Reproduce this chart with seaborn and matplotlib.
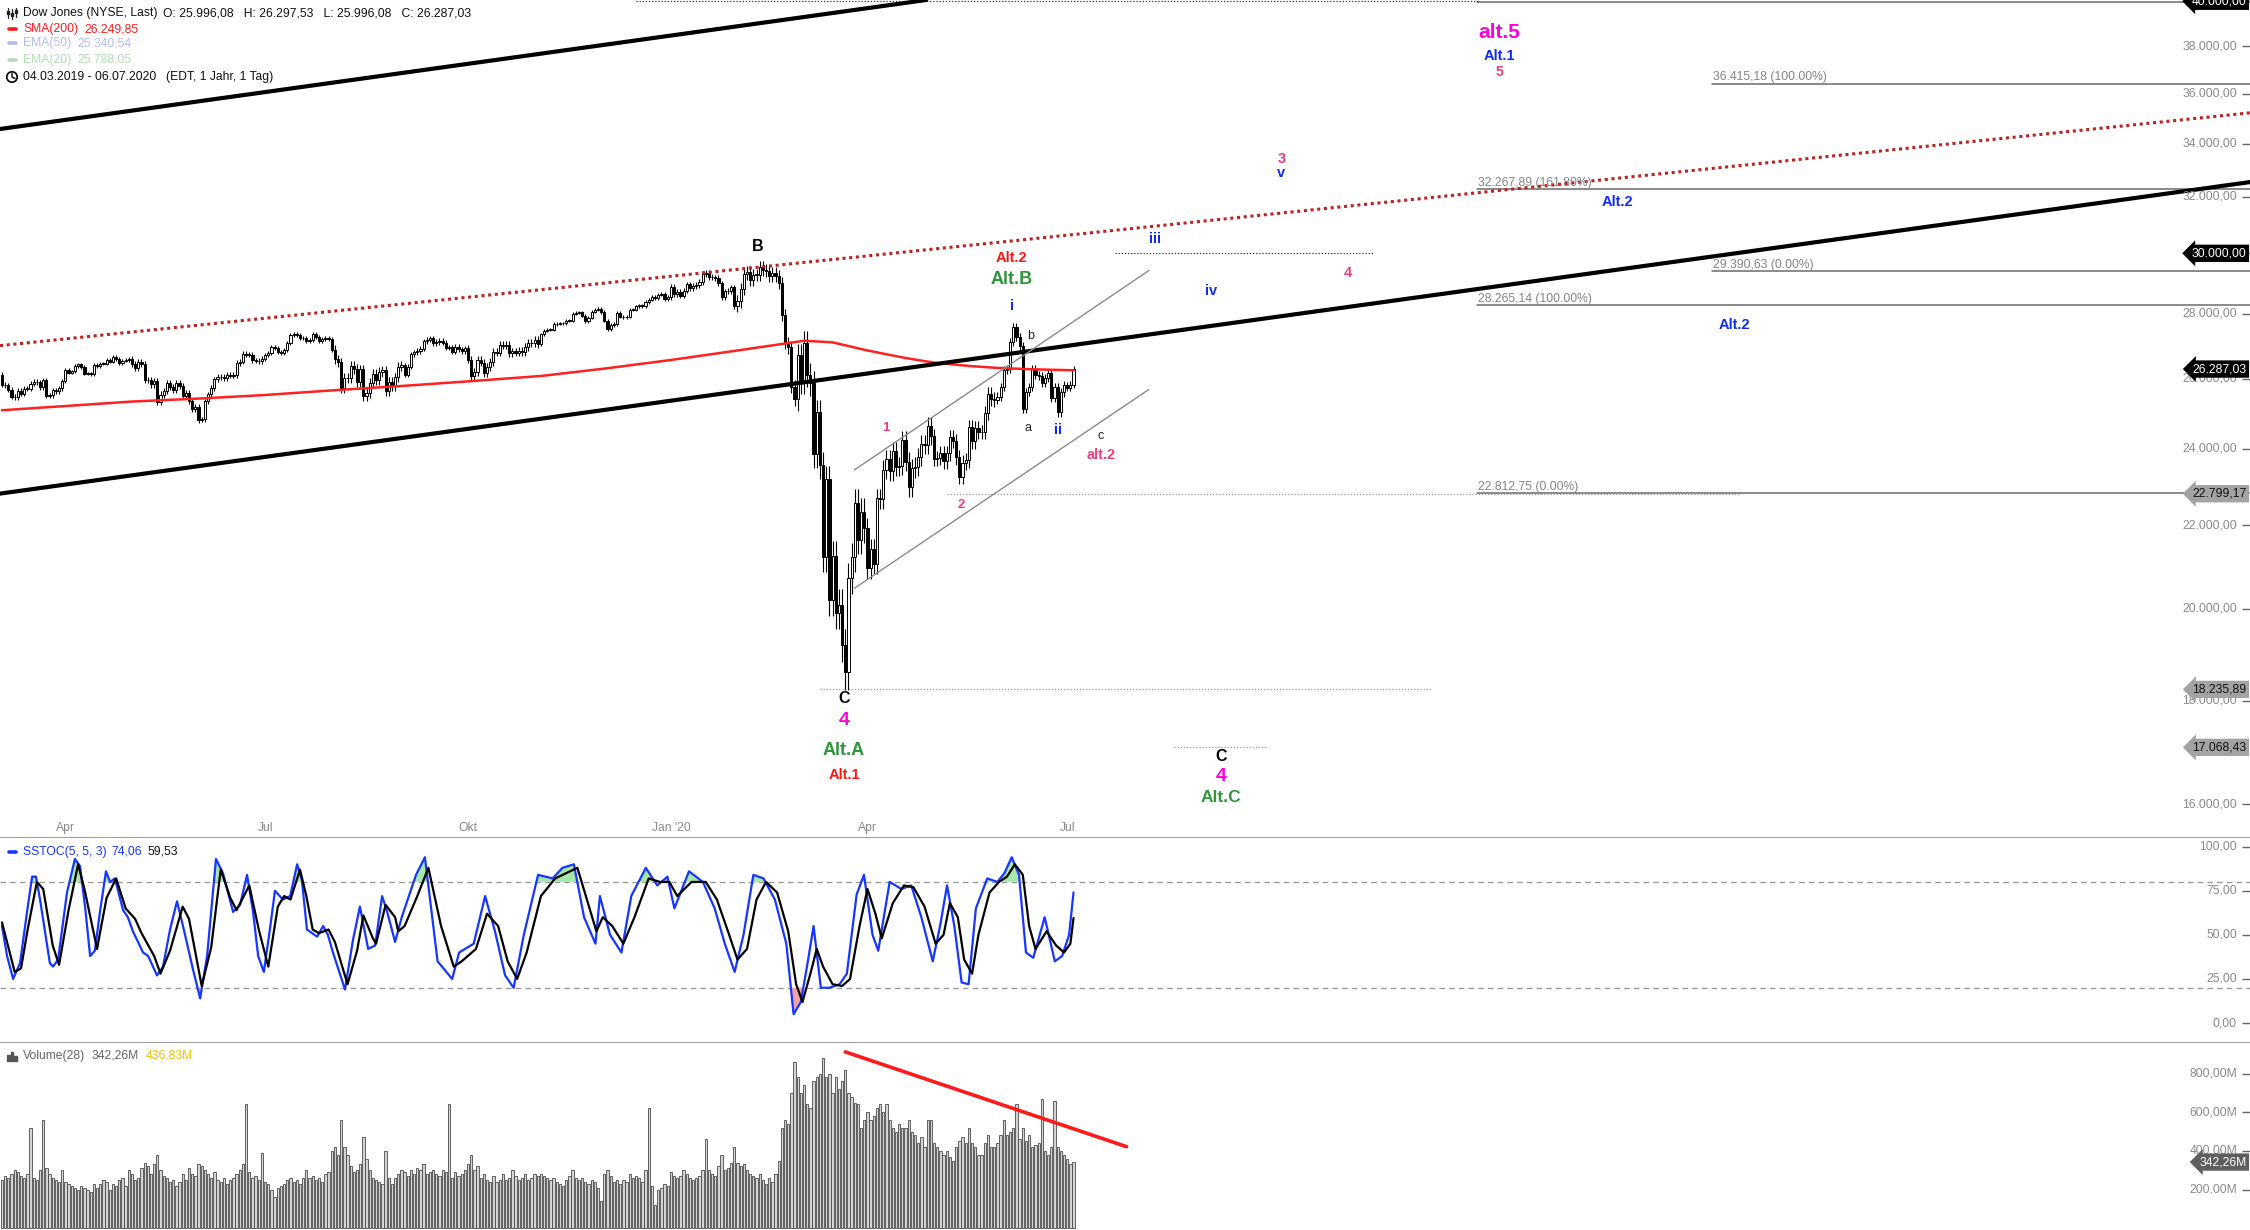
import numpy as np
import pandas as pd
import matplotlib
matplotlib.use("Agg")
import matplotlib.pyplot as plt
import matplotlib.transforms as mtransforms
from matplotlib.lines import Line2D
from matplotlib.patches import Circle, Rectangle
import seaborn as sns

sns.set_style("white")
plt.rcParams["font.family"] = ["Liberation Sans", "DejaVu Sans"]

# --- data -------------------------------------------------------------
holidays = ["2019-04-19", "2019-05-27", "2019-07-04", "2019-09-02", "2019-11-28",
            "2019-12-25", "2020-01-01", "2020-01-20", "2020-02-17", "2020-04-10",
            "2020-05-25", "2020-07-03"]

first_open = 26122
close = [
    # 2019-03
    25819, 25806, 25673, 25473, 25450, 25650, 25554, 25702, 25709, 25849,
    25914, 25887, 25745, 25962, 25502, 25516, 25657, 25626, 25717, 25929,
    # 2019-04
    26258, 26180, 26218, 26385, 26425, 26341, 26150, 26157, 26143, 26412,
    26384, 26452, 26450, 26559, 26511, 26656, 26597, 26462, 26543, 26554, 26592,
    # 2019-05
    26430, 26307, 26505, 26438, 25965, 25968, 25828, 25942, 25324, 25532, 25648,
    25863, 25764, 25679, 25877, 25776, 25490, 25586, 25347, 25126, 25169, 24815,
    # 2019-06
    24820, 25332, 25540, 25720, 25984, 26062, 26048, 26005, 26107, 26090,
    26112, 26466, 26504, 26753, 26720, 26727, 26548, 26537, 26526, 26600,
    # 2019-07
    26717, 26787, 26966, 26922, 26806, 26784, 26860, 27088, 27332, 27359, 27336,
    27220, 27223, 27154, 27172, 27350, 27270, 27141, 27192, 27222, 27198, 26864,
    # 2019-08
    26583, 26485, 25718, 26030, 26008, 26379, 26287, 25897, 26280, 25480, 25579,
    25886, 26136, 25962, 26203, 26253, 25629, 25899, 25778, 26036, 26363, 26403,
    # 2019-09
    26118, 26355, 26728, 26797, 26835, 26909, 27137, 27182, 27220, 27076,
    27111, 27147, 27094, 26935, 26950, 26808, 26970, 26891, 26820, 26917,
    # 2019-10
    26573, 26079, 26202, 26573, 26478, 26164, 26347, 26497, 26817, 26787, 27025, 27001,
    27026, 26770, 26828, 26788, 26834, 26806, 26958, 27091, 27071, 27186, 27046,
    # 2019-11
    27347, 27462, 27493, 27493, 27675, 27681, 27691, 27691, 27784, 27782,
    28005, 28036, 28053, 27934, 27766, 27876, 28066, 28122, 28164, 28051,
    # 2019-12
    27783, 27503, 27650, 27677, 28015, 27910, 27881, 27911, 28132, 28135, 28235,
    28267, 28239, 28377, 28455, 28551, 28515, 28621, 28645, 28462, 28538,
    # 2020-01
    28868, 28634, 28703, 28584, 28745, 28957, 28824, 28907, 28940, 29030, 29298,
    29348, 29196, 29186, 29160, 28990, 28535, 28723, 28734, 28859, 28256,
    # 2020-02
    28400, 28807, 29291, 29380, 29103, 29276, 29276, 29551, 29423, 29398,
    29232, 29348, 29219, 28992, 27961, 27081, 26957, 25766, 25409,
    # 2020-03
    26703, 25917, 27091, 26121, 25865, 23851, 25018, 23553, 21200, 23185, 20189,
    21237, 19899, 20087, 19174, 18592, 20704, 21200, 22552, 21637, 22328, 21917,
    # 2020-04
    20944, 21413, 21053, 22680, 22654, 23434, 23719, 23390, 23950, 23505, 23538,
    24242, 23650, 22965, 23475, 23516, 23775, 24134, 24101, 24634, 24346,
    # 2020-05
    23724, 23750, 23883, 23665, 23875, 24331, 24222, 23765, 23248, 23625,
    23685, 24597, 24207, 24576, 24474, 24465, 24995, 25548, 25401, 25383,
    # 2020-06
    25475, 25742, 26270, 26282, 27111, 27572, 27272, 26990, 25128, 25606, 25763,
    26290, 26120, 26080, 25871, 26025, 26156, 25446, 25745, 25016, 25596, 25813,
    # 2020-07
    25735, 25827, 26287.03,
]

month_wick = {"2019-03": 70, "2019-04": 55, "2019-05": 90, "2019-06": 80, "2019-07": 60,
              "2019-08": 140, "2019-09": 80, "2019-10": 110, "2019-11": 50, "2019-12": 60,
              "2020-01": 90, "2020-02": 200, "2020-03": 360, "2020-04": 250, "2020-05": 200,
              "2020-06": 120, "2020-07": 100}

volume = [
    250, 270, 260, 280, 300, 290, 270, 260, 280, 520, 260, 250, 300, 560, 310, 280, 260, 250, 240, 300,
    240, 230, 220, 210, 200, 220, 210, 200, 190, 230, 210, 230, 250, 240, 200, 230, 220, 250, 260, 220, 300,
    280, 250, 260, 310, 340, 320, 280, 330, 380, 300, 270, 260, 240, 250, 220, 240, 280, 250, 310, 280, 270, 330,
    320, 300, 280, 260, 290, 250, 240, 260, 230, 250, 260, 280, 300, 330, 640, 290, 260, 270, 250, 390,
    240, 230, 200, 160, 210, 220, 230, 250, 260, 240, 250, 230, 260, 300, 260, 270, 250, 260, 240, 280, 290, 400,
    420, 380, 560, 420, 380, 320, 290, 300, 330, 470, 360, 300, 260, 250, 240, 230, 400, 260, 230, 260, 280, 300,
    290, 270, 300, 280, 310, 300, 330, 280, 290, 300, 280, 270, 300, 290, 640, 260, 290, 270, 280, 300,
    330, 380, 300, 320, 260, 280, 250, 240, 270, 240, 250, 280, 250, 260, 300, 270, 250, 260, 280, 250, 260, 280, 270,
    280, 270, 260, 250, 260, 240, 230, 220, 250, 270, 300, 260, 250, 260, 240, 230, 250, 240, 210, 140,
    280, 300, 270, 240, 250, 230, 250, 240, 280, 260, 270, 260, 240, 300, 620, 220, 120, 200, 210, 230, 220,
    290, 270, 260, 270, 300, 280, 260, 250, 260, 270, 300, 460, 300, 280, 270, 320, 380, 300, 310, 340, 420,
    340, 320, 330, 300, 280, 270, 260, 280, 250, 230, 260, 240, 280, 350, 520, 560, 540, 700, 860,
    780, 700, 740, 640, 620, 760, 780, 800, 880, 780, 800, 700, 780, 720, 760, 820, 700, 680, 650, 640, 520, 560,
    600, 560, 580, 620, 640, 600, 640, 560, 520, 500, 540, 520, 520, 560, 500, 480, 440, 470, 420, 560, 560,
    440, 420, 400, 380, 400, 370, 350, 420, 450, 470, 440, 520, 440, 420, 380, 380, 440, 480, 420, 420,
    440, 480, 560, 480, 500, 520, 640, 460, 520, 450, 480, 420, 430, 440, 670, 400, 380, 420, 660, 420, 400, 380,
    360, 330, 342.26,
]

sma_day = [0, 20, 41, 63, 83, 105, 127, 147, 170, 190, 211, 232, 246, 253, 262, 273, 285, 294, 305, 314, 325, 338]
sma_val = [25080, 25200, 25330, 25420, 25520, 25660, 25790, 25920, 26080, 26300, 26560, 26850,
           27050, 27150, 27100, 26850, 26620, 26480, 26380, 26320, 26280, 26249.85]

k_day = [0, 1.6, 3.5, 5.7, 7.9, 9.5, 10.7, 12, 15.1, 16.1, 17.7, 20.5, 23, 24.6, 26.2, 27.8, 29.3,
         30.9, 32.8, 34.1, 35.6, 38.2, 39.7, 41.3, 44.5, 46.1, 48.9, 50.8, 53, 55.2, 57.1, 60.3, 62.5,
         64.7, 67.5, 69.7, 72.9, 75.1, 77.3, 79.2, 80.8, 82.6, 84.5, 86.1, 88.6, 90.9, 93.1, 94.6, 96.2,
         99.4, 101.3, 102.8, 104.4, 108.2, 110.7, 112.9, 115.5, 117.7, 119.9, 121.5, 124,
         126.1, 130.6, 133.4, 137.4, 142, 144.2, 148.8, 152.4, 155.5, 158.7, 161.4, 164.6, 169.1, 173.7,
         176.8, 180.4, 183.6, 187.2, 188.6, 191.8, 195.4, 198.5, 203.1, 206.7, 209.9, 212.1, 216.7, 221.1,
         224.8, 228, 231.1, 233.9, 237, 240.2, 243.8, 247.4, 249.7, 252, 254.2, 256, 258.3, 261, 264.2,
         266.5, 269.6, 271.9, 274.6, 276.4, 280, 283.7, 286.8, 290, 293.6, 295.9, 298.1, 300.4, 302.7,
         304.9, 307.2, 310.8, 314, 316.2, 318.5, 320.8, 323, 325.3, 328.9, 332.1, 334.4, 336.6, 338]
k_val = [55, 38, 25, 34, 63, 83, 83, 70, 34, 32, 36, 74, 93, 89, 66, 38, 41, 63, 86, 80, 82, 64, 60,
         52, 40, 38, 27, 32, 53, 69, 55, 30, 14, 38, 93, 85, 63, 67, 84, 63, 38, 29, 53, 75, 70, 72, 90,
         81, 53, 49, 55, 50, 40, 19, 47, 66, 42, 44, 72, 63, 46,
         60, 84, 94, 35, 25, 40, 45, 72, 52, 27, 20, 50, 84, 82, 88, 90, 60, 45, 72, 50, 40, 72, 88, 78,
         83, 65, 86, 80, 65, 45, 29, 50, 84, 82, 70, 45, 5, 12, 35, 55, 20, 20, 22, 28, 73, 84, 50, 41,
         80, 76, 78, 60, 35, 55, 78, 55, 23, 22, 65, 82, 80, 85, 94, 84, 40, 37, 60, 35, 38, 50, 74.06]

d_day = [0, 4, 6, 8, 11, 13, 16, 18, 21, 24, 26, 30, 31, 33, 36, 39, 42, 44, 48, 50, 53, 57, 59, 63,
         66, 69, 72, 74, 78, 81, 84, 87, 89, 91, 94, 96, 98, 100, 103, 105, 109, 112, 114, 117, 118,
         121, 124, 125,
         127, 131, 134.5, 138.5, 142.5, 145, 149.5, 153, 156.5, 159.5, 162.5, 165.5, 170, 174.5, 178,
         181.5, 184.5, 187.5, 189.5, 192.5, 196, 199.5, 204, 207.5, 210.5, 213, 217.5, 222, 225.5, 229,
         232, 235, 238, 241, 244.5, 248, 250.5, 252.5, 255, 257, 259, 262, 265, 267.5, 270.5, 273,
         275.5, 277.5, 281, 284.5, 287.5, 291, 294.5, 297, 299, 301.5, 303.5, 306, 308, 311.5, 314.5,
         317, 319.5, 322, 324, 326, 329.5, 332.5, 335, 337, 338]
d_val = [57, 29, 31, 52, 80, 76, 44, 33, 64, 90, 76, 42, 52, 71, 82, 65, 59, 51, 38, 28, 41, 66, 59,
         21, 43, 87, 71, 64, 78, 53, 32, 66, 72, 70, 87, 72, 53, 51, 53, 46, 22, 41, 61, 48, 45, 67, 60, 52,
         55, 72, 88, 55, 32, 35, 42, 62, 55, 35, 25, 40, 72, 82, 85, 88, 70, 52, 60, 55, 45, 60, 82, 80,
         80, 72, 80, 80, 70, 52, 36, 42, 70, 80, 74, 52, 22, 12, 28, 42, 32, 22, 21, 25, 55, 76, 62, 48,
         68, 78, 77, 66, 45, 50, 68, 60, 36, 28, 50, 74, 80, 83, 90, 84, 55, 42, 52, 44, 40, 45, 59.53]

# drawn objects: (day, price) endpoints
trend_upper = [(-0.63, 34573), (291.5, 40058)]
trend_lower = [(-0.63, 22803), (709.1, 32541)]
trend_red = [(-0.63, 26998), (709.1, 35219)]
channel_top = [(268.9, 23429), (361.8, 29419)]
channel_bot = [(268.9, 20469), (361.8, 25683)]
vol_trend = [(266, 912), (354.7, 422)]

fib_levels = [36415.18, 32267.89, 29390.63, 28265.14, 22812.75]
fib_start = [539.4, 465.3, 539.4, 465.3, 465.3]
fib_labels = ["36.415,18 (100.00%)", "32.267,89 (161.80%)", "29.390,63 (0.00%)",
              "28.265,14 (100.00%)", "22.812,75 (0.00%)"]

# dotted horizontal marks: (price, from day, to day)
h_marks = [(40000, 200, 465.6), (30000, 351.1, 432.5), (22799.17, 298, 548),
           (18235.89, 258, 450.8), (17068.43, 369.7, 399.4)]

badges = [40000, 30000, 26287.03, 22799.17, 18235.89, 17068.43]
badge_dark = [True, True, True, False, False, False]

price_ticks = [16000, 18000, 20000, 22000, 24000, 26000, 28000, 30000, 32000, 34000, 36000, 38000, 40000]
stoch_ticks = [0, 25, 50, 75, 100]
vol_ticks = [200, 400, 600, 800]
month_ticks = ["2019-04-01", "2019-07-01", "2019-10-01", "2020-01-02", "2020-04-01", "2020-07-01"]
month_labels = ["Apr", "Jul", "Okt", "Jan '20", "Apr", "Jul"]

BLUE = "#0f2cf5"
PINK = "#ec3f78"
MAG = "#ff00dd"
GREEN = "#2f973a"
RED = "#ff1414"
wave_labels = [
    ("B", 238.4, 30230, "black", 11.5), ("Alt.2", 318.5, 29830, RED, 10.5),
    ("Alt.B", 318.5, 29100, GREEN, 13), ("i", 318.5, 28260, BLUE, 10.5),
    ("ii", 333, 24510, BLUE, 10.5), ("alt.2", 346.6, 23835, PINK, 10.5),
    ("1", 278.7, 24590, PINK, 9.5), ("2", 302.7, 22506, PINK, 9.5),
    ("C", 265.6, 18042, "black", 11.5), ("4", 265.6, 17602, MAG, 14),
    ("Alt.A", 265.6, 17008, GREEN, 13), ("Alt.1", 265.6, 16540, RED, 10.5),
    ("iii", 363.8, 30505, BLUE, 10.5), ("3", 403.6, 33418, PINK, 10.5),
    ("v", 403.6, 32870, BLUE, 10.5), ("iv", 381.4, 28731, BLUE, 10.5),
    ("4", 424.4, 29339, PINK, 10.5), ("alt.5", 472.4, 38580, MAG, 15),
    ("Alt.1", 472.4, 37587, BLUE, 10.5), ("5", 472.4, 36907, PINK, 10),
    ("Alt.2", 509.5, 31819, BLUE, 10.5), ("Alt.2", 546.6, 27642, BLUE, 10.5),
    ("C", 384.6, 16897, "black", 11.5), ("4", 384.6, 16515, MAG, 14),
    ("Alt.C", 384.6, 16112, GREEN, 12.5),
]
small_labels = [("b", 324.4, 27310), ("a", 323.5, 24590), ("c", 346.6, 24350)]


def de(v, nd=2):
    s = f"{v:,.{nd}f}"
    return s.replace(",", "#").replace(".", ",").replace("#", ".")


# --- frame ------------------------------------------------------------
dates = pd.bdate_range("2019-03-04", "2020-07-06", freq="C", holidays=holidays)
df = pd.DataFrame({"date": dates, "close": close, "volume": volume})
df["i"] = np.arange(len(df))
df["open"] = np.r_[first_open, df["close"].values[:-1]]
df["wick"] = df["date"].dt.strftime("%Y-%m").map(month_wick)
df["high"] = df[["open", "close"]].max(axis=1) + df["wick"]
df["low"] = df[["open", "close"]].min(axis=1) - df["wick"]
tick_idx = [int(df.index[df["date"] >= pd.Timestamp(m)][0]) for m in month_ticks]

W, H = 2250, 1230
XLIM = (-0.63, 709.1)
GRAY_TXT = "#8a8a8a"
FS = 8.7

fig = plt.figure(figsize=(W / 100, H / 100), dpi=100)
ax_p = fig.add_axes([0, (H - 838) / H, 1, 838 / H])
ax_s = fig.add_axes([0, (H - 1043) / H, 1, 205 / H])
ax_v = fig.add_axes([0, 0, 1, (H - 1043) / H])
for ax in (ax_p, ax_s, ax_v):
    for sp in ax.spines.values():
        sp.set_visible(False)
    ax.set_facecolor("white")
for ax in (ax_p, ax_s):
    ax.spines["bottom"].set_visible(True)
    ax.spines["bottom"].set_color("#8c8c8c")
    ax.spines["bottom"].set_linewidth(1.2)

# --- price panel --------------------------------------------------------
ax_p.set_yscale("log")
up = df["close"] >= df["open"]
body_lo = np.minimum(df["open"], df["close"])
body_h = np.maximum((df["close"] - df["open"]).abs(), 10)
ax_p.vlines(df["i"], df["low"], df["high"], color="black", lw=0.8, zorder=3)
ax_p.bar(df["i"][up], body_h[up], bottom=body_lo[up], width=0.68, color="white",
         edgecolor="black", linewidth=0.7, zorder=4)
ax_p.bar(df["i"][~up], body_h[~up], bottom=body_lo[~up], width=0.68, color="black",
         edgecolor="black", linewidth=0.7, zorder=4)

sns.lineplot(x=sma_day, y=sma_val, ax=ax_p, color="#ff2020", lw=1.8, zorder=5)

for seg, kw in [(trend_upper, dict(color="black", lw=3.0)),
                (trend_lower, dict(color="black", lw=3.0)),
                (trend_red, dict(color="#c0201e", lw=2.2, ls=(0, (1, 1.2)))),
                (channel_top, dict(color="#8a8a8a", lw=1.0)),
                (channel_bot, dict(color="#8a8a8a", lw=1.0))]:
    ax_p.plot([seg[0][0], seg[1][0]], [seg[0][1], seg[1][1]], zorder=6, **kw)

for lev, st, lab in zip(fib_levels, fib_start, fib_labels):
    ax_p.plot([st, XLIM[1]], [lev, lev], color="#6e6a6a", lw=1.1, zorder=2)
    ax_p.annotate(lab, (st, lev), xytext=(0.5, 2.2), textcoords="offset points",
                  ha="left", va="baseline", fontsize=FS, color="#858585", zorder=7)
ax_p.plot([465.3, XLIM[1]], [39960, 39960], color="#6e6a6a", lw=1.1, zorder=2)

for lev, a, b in h_marks:
    col = "#333333" if lev in (40000, 30000) else "#9a9a9a"
    ax_p.plot([a, b], [lev, lev], color=col, lw=0.9, ls=(0, (1, 1.5)), zorder=2)

for txt, x, y, col, fs in wave_labels:
    ax_p.text(x, y, txt, color=col, fontsize=fs, fontweight="bold", ha="center", va="center", zorder=8)
for txt, x, y in small_labels:
    ax_p.text(x, y, txt, color="#222222", fontsize=9, ha="center", va="center", zorder=8)

ax_p.set_xlim(*XLIM)
ax_p.set_ylim(15391, 40058)
ax_p.yaxis.tick_right()
ax_p.set_yticks(price_ticks)
ax_p.yaxis.set_minor_locator(matplotlib.ticker.NullLocator())
ax_p.tick_params(axis="y", which="both", direction="in", length=6, width=1, color="#666666",
                 labelright=False, labelleft=False, right=True, left=False)
ax_p.set_xticks(tick_idx)
ax_p.tick_params(axis="x", direction="in", length=7, width=1, color="#333333", labelbottom=False)
ax_p.set_xlabel("")
ax_p.set_ylabel("")

tr_py = mtransforms.blended_transform_factory(ax_p.transAxes, ax_p.transData)
for v in price_ticks:
    # labels at 30.000 and 40.000 sit fully under their price badges
    if v in badges:
        continue
    ax_p.text(0.9942, v, de(v), transform=tr_py, ha="right", va="center", fontsize=FS,
              color=GRAY_TXT, zorder=9)
for v, dark in zip(badges, badge_dark):
    ax_p.text(0.9984, v, de(v), transform=tr_py, ha="right", va="center", fontsize=FS,
              color="white" if dark else "#111111", zorder=20,
              bbox=dict(boxstyle="larrow,pad=0.22", fc="black" if dark else "#a3a3a3", ec="none"))

tr_px = mtransforms.blended_transform_factory(ax_p.transData, ax_p.transAxes)
for idx, lab in zip(tick_idx, month_labels):
    ax_p.text(idx, 0.0119, lab, transform=tr_px, ha="center", va="center", fontsize=FS, color=GRAY_TXT)

# --- stochastic panel -----------------------------------------------------
kd = np.array(k_day)
kv = np.array(k_val, dtype=float)
ax_s.fill_between(kd, kv, 80, where=kv > 80, interpolate=True, color="#a6e8a6", lw=0, zorder=1)
ax_s.fill_between(kd, kv, 20, where=kv < 20, interpolate=True, color="#f2a2a2", lw=0, zorder=1)
for lev in (80, 20):
    ax_s.axhline(lev, color="#9a9a9a", lw=1.0, ls=(0, (4, 3)), zorder=0)
sns.lineplot(x=k_day, y=k_val, ax=ax_s, color="#1536ff", lw=1.6, zorder=3)
sns.lineplot(x=d_day, y=d_val, ax=ax_s, color="black", lw=1.6, zorder=4)
ax_s.set_xlim(*XLIM)
ax_s.set_ylim(-11.3, 104.9)
ax_s.yaxis.tick_right()
ax_s.set_yticks(stoch_ticks)
ax_s.tick_params(axis="y", direction="in", length=6, width=1, color="#666666",
                 labelright=False, labelleft=False, right=True, left=False)
ax_s.set_xticks(tick_idx)
ax_s.tick_params(axis="x", direction="in", length=7, width=1, color="#333333", labelbottom=False)
ax_s.set_xlabel("")
ax_s.set_ylabel("")
tr_sy = mtransforms.blended_transform_factory(ax_s.transAxes, ax_s.transData)
for v in stoch_ticks:
    ax_s.text(0.9942, v, de(v), transform=tr_sy, ha="right", va="center", fontsize=FS, color=GRAY_TXT)

# --- volume panel ---------------------------------------------------------
sns.barplot(x=df["i"], y=df["volume"], ax=ax_v, native_scale=True, width=0.72,
            color="#d4d4d4", edgecolor="#4a4a4a", linewidth=0.6, saturation=1, errorbar=None)
ax_v.plot([vol_trend[0][0], vol_trend[1][0]], [vol_trend[0][1], vol_trend[1][1]],
          color="#ff1a1a", lw=2.6, zorder=6)
ax_v.set_xlim(*XLIM)
ax_v.set_ylim(-9, 958)
ax_v.yaxis.tick_right()
ax_v.set_yticks(vol_ticks)
ax_v.tick_params(axis="y", direction="in", length=6, width=1, color="#666666",
                 labelright=False, labelleft=False, right=True, left=False)
ax_v.set_xticks([])
ax_v.set_xlabel("")
ax_v.set_ylabel("")
tr_vy = mtransforms.blended_transform_factory(ax_v.transAxes, ax_v.transData)
for v in vol_ticks:
    ax_v.text(0.9942, v, de(v) + "M", transform=tr_vy, ha="right", va="center", fontsize=FS,
              color=GRAY_TXT)
ax_v.text(0.9984, volume[-1], de(volume[-1]) + "M", transform=tr_vy, ha="right", va="center",
          fontsize=FS, color="white", zorder=20,
          bbox=dict(boxstyle="larrow,pad=0.22", fc="#5e5e5e", ec="none"))

# --- header texts -------------------------------------------------------------
def fx(x, y):
    return x / W, 1 - y / H


ident = mtransforms.IdentityTransform()


def ftxt(x, y, s, col, **kw):
    fig.text(*fx(x, y), s, color=col, fontsize=FS, ha="left", va="center", **kw)


ftxt(23, 13, "Dow Jones (NYSE, Last)", "#111111")
ftxt(163, 13, "O: 25.996,08   H: 26.297,53   L: 25.996,08   C: 26.287,03", "#111111")
ftxt(23, 29, "SMA(200)", "#ff1a1a")
ftxt(84, 29, "26.249,85", "#ff1a1a")
ftxt(23, 43, "EMA(50)", "#b4bbf2")
ftxt(77, 43, "25.340,54", "#b4bbf2")
ftxt(23, 60, "EMA(20)", "#b5dbb5")
ftxt(77, 60, "25.788,05", "#b5dbb5")
ftxt(23, 77, "04.03.2019 - 06.07.2020", "#111111")
ftxt(166, 77, "(EDT, 1 Jahr, 1 Tag)", "#111111")
ftxt(23, 852, "SSTOC(5, 5, 3)", "#1536ff")
ftxt(111, 852, "74,06", "#1536ff")
ftxt(148, 852, "59,53", "#111111")
ftxt(23, 1056, "Volume(28)", "#666666")
ftxt(92, 1056, "342,26M", "#666666")
ftxt(146, 1056, "436,83M", "#f2c200")

for y, col in [(29, "#ff1a1a"), (43, "#b4bbf2"), (60, "#b5dbb5"), (852, "#1536ff")]:
    fig.add_artist(Line2D([9, 16], [H - y, H - y], color=col, lw=2.6, transform=ident))
for x, y0, y1, by in [(8, 8, 18, 11), (12, 9, 19, 13), (16, 8, 17, 10)]:
    fig.add_artist(Line2D([x, x], [H - y0, H - y1], color="#222222", lw=0.9, transform=ident))
    fig.add_artist(Rectangle((x - 1.3, H - by - 3), 2.6, 3, color="#222222", transform=ident))
fig.add_artist(Circle((12, H - 77), 5.2, fill=False, lw=1.3, color="#111111", transform=ident))
fig.add_artist(Line2D([12, 12, 15], [H - 73.5, H - 77, H - 78.5], color="#111111", lw=1.1,
                      transform=ident))
for x, hgt in [(7, 6), (10.5, 9), (14, 5)]:
    fig.add_artist(Rectangle((x, H - 1061), 2.6, hgt, color="#555555", transform=ident))

fig.savefig("out.png", dpi=100)
